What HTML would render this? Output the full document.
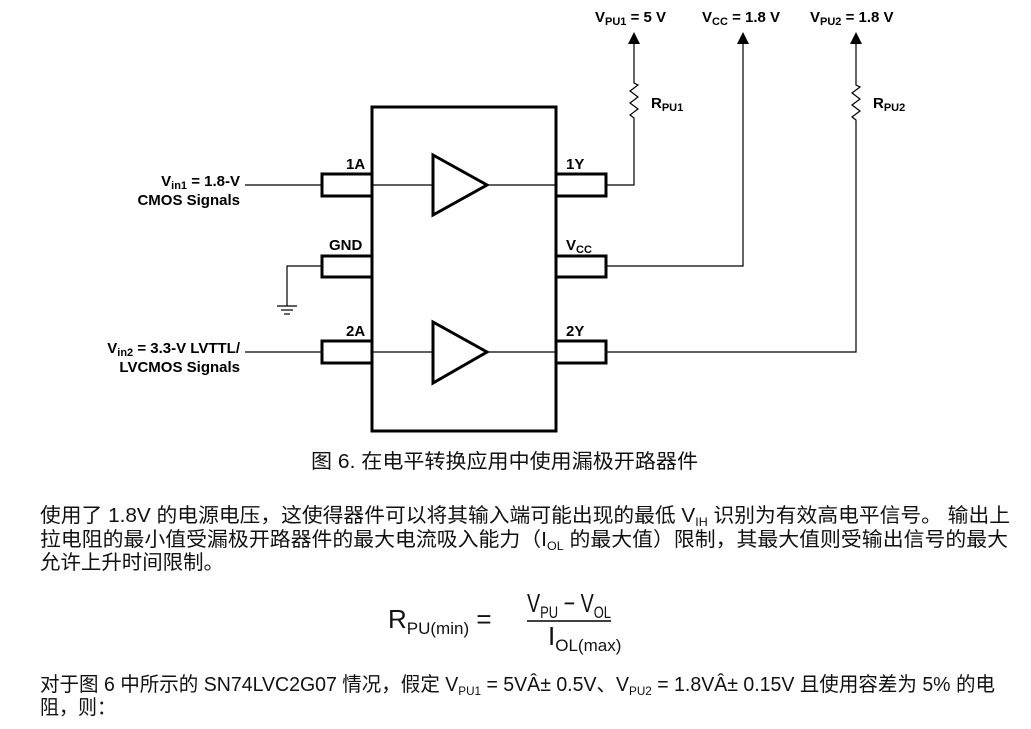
<!DOCTYPE html>
<html><head><meta charset="utf-8"><style>
html,body{margin:0;padding:0;background:#fff;}
svg{display:block;}
.l{font-family:"Liberation Sans",sans-serif;font-weight:bold;font-size:15px;fill:#000;}
.c{font-family:"Liberation Sans","Noto Sans CJK SC",sans-serif;font-size:20px;fill:#111;}
.f{font-family:"Liberation Sans",sans-serif;font-size:26px;fill:#111;}
</style></head><body>
<svg width="1031" height="729" viewBox="0 0 1031 729" xmlns="http://www.w3.org/2000/svg">
<g fill="none" stroke="#000">
<rect x="372" y="107" width="184" height="324" stroke-width="3"/>
<rect x="322" y="174" width="50" height="22" stroke-width="3"/>
<rect x="322" y="256" width="50" height="21" stroke-width="3"/>
<rect x="322" y="341" width="50" height="22" stroke-width="3"/>
<rect x="556" y="174" width="50" height="22" stroke-width="3"/>
<rect x="556" y="256" width="50" height="21" stroke-width="3"/>
<rect x="556" y="341" width="50" height="22" stroke-width="3"/>
<polygon points="433,155 487,185 433,215" stroke-width="3"/>
<polygon points="433,322 487,352 433,383" stroke-width="3"/>
<g stroke-width="1.2">
<line x1="245" y1="185" x2="322" y2="185"/>
<line x1="372" y1="185" x2="433" y2="185"/>
<line x1="487" y1="185" x2="556" y2="185"/>
<line x1="245" y1="352" x2="322" y2="352"/>
<line x1="372" y1="352" x2="433" y2="352"/>
<line x1="487" y1="352" x2="556" y2="352"/>
<polyline points="322,266 287,266 287,306"/>
<line x1="277" y1="306" x2="297" y2="306"/>
<line x1="281" y1="310" x2="293" y2="310"/>
<line x1="284" y1="314" x2="290" y2="314"/>
<polyline points="606,185 634,185 634,118 630,115 638,109 630,103 638,97 630,91 638,85 634,83 634,40"/>
<polyline points="606,266 743,266 743,40"/>
<polyline points="606,352 856,352 856,120 852,117 860,111 852,105 860,99 852,93 860,87 856,85 856,40"/>
</g>
</g>
<g fill="#000">
<polygon points="634,32 628,44 640,44"/>
<polygon points="743,32 737,44 749,44"/>
<polygon points="856,32 850,44 862,44"/>
</g>
<text class="l" x="595" y="22">V<tspan font-size="11" dy="3">PU1</tspan><tspan dy="-3"> = 5 V</tspan></text>
<text class="l" x="702" y="22">V<tspan font-size="11" dy="3">CC</tspan><tspan dy="-3"> = 1.8 V</tspan></text>
<text class="l" x="810" y="22">V<tspan font-size="11" dy="3">PU2</tspan><tspan dy="-3"> = 1.8 V</tspan></text>
<text class="l" x="651" y="108">R<tspan font-size="11" dy="3">PU1</tspan></text>
<text class="l" x="873" y="108">R<tspan font-size="11" dy="3">PU2</tspan></text>
<text class="l" x="346" y="169">1A</text>
<text class="l" x="329" y="250">GND</text>
<text class="l" x="346" y="336">2A</text>
<text class="l" x="566" y="169">1Y</text>
<text class="l" x="566" y="250">V<tspan font-size="11" dy="3">CC</tspan></text>
<text class="l" x="566" y="336">2Y</text>
<text class="l" x="240" y="186" text-anchor="end">V<tspan font-size="11" dy="3">in1</tspan><tspan dy="-3"> = 1.8-V</tspan></text>
<text class="l" x="240" y="205" text-anchor="end">CMOS Signals</text>
<text class="l" x="240" y="353" text-anchor="end">V<tspan font-size="11" dy="3">in2</tspan><tspan dy="-3"> = 3.3-V LVTTL/</tspan></text>
<text class="l" x="240" y="372" text-anchor="end">LVCMOS Signals</text>
<text class="c" x="311" y="468" textLength="387" lengthAdjust="spacingAndGlyphs" font-size="19">图 6. 在电平转换应用中使用漏极开路器件</text>
<text class="c" x="40" y="522" textLength="970" lengthAdjust="spacingAndGlyphs">使用了 1.8V 的电源电压，这使得器件可以将其输入端可能出现的最低 V<tspan font-size="12" dy="4">IH</tspan><tspan dy="-4"> 识别为有效高电平信号。 输出上</tspan></text>
<text class="c" x="40" y="546" textLength="968" lengthAdjust="spacingAndGlyphs">拉电阻的最小值受漏极开路器件的最大电流吸入能力（I<tspan font-size="12" dy="4">OL</tspan><tspan dy="-4"> 的最大值）限制，其最大值则受输出信号的最大</tspan></text>
<text class="c" x="40" y="569" textLength="184" lengthAdjust="spacingAndGlyphs">允许上升时间限制。</text>
<text class="f" x="388" y="628">R<tspan font-size="17" dy="6">PU(min)</tspan><tspan dy="-6"> =</tspan></text>
<text class="f" x="527" y="612" textLength="84" lengthAdjust="spacingAndGlyphs">V<tspan font-size="17" dy="6">PU</tspan><tspan dy="-6"> − V</tspan><tspan font-size="17" dy="6">OL</tspan></text>
<line x1="527" y1="621" x2="611" y2="621" stroke="#000" stroke-width="1.5"/>
<text class="f" x="548" y="645">I<tspan font-size="17" dy="6">OL(max)</tspan></text>
<text class="c" x="40" y="691" textLength="955" lengthAdjust="spacingAndGlyphs">对于图 6 中所示的 SN74LVC2G07 情况，假定 V<tspan font-size="12" dy="4">PU1</tspan><tspan dy="-4"> = 5VÂ± 0.5V、V</tspan><tspan font-size="12" dy="4">PU2</tspan><tspan dy="-4"> = 1.8VÂ± 0.15V 且使用容差为 5% 的电</tspan></text>
<text class="c" x="40" y="714" textLength="76" lengthAdjust="spacingAndGlyphs">阻，则：</text>
</svg>
</body></html>
